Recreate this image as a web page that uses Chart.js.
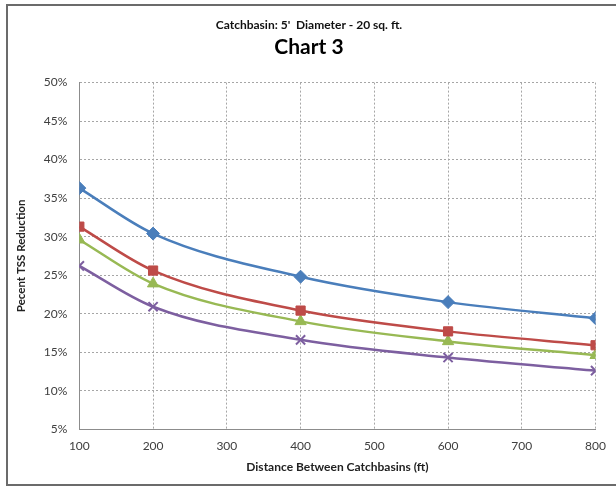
<!DOCTYPE html>
<html>
<head>
<meta charset="utf-8">
<script src="https://cdn.jsdelivr.net/npm/chart.js@4/dist/chart.umd.min.js"></script>
<style>
  html, body { margin: 0; padding: 0; background: #fff; }
  #wrap { width: 616px; height: 487px; position: relative; }
</style>
</head>
<body>
<div id="wrap"><canvas id="chart3" width="616" height="487"></canvas></div>
<script>
// distances (ft)
const distances = [100, 200, 400, 600, 800];
// percent TSS reduction, one array per curve
const seriesBlue = [36.3, 30.4, 24.8, 21.5, 19.4];
const seriesRed = [31.3, 25.6, 20.4, 17.7, 15.9];
const seriesGreen = [29.6, 23.9, 19.0, 16.4, 14.6];
const seriesPurple = [26.2, 20.9, 16.6, 14.3, 12.6];
const yTicks = [5, 10, 15, 20, 25, 30, 35, 40, 45, 50];
const xTicks = [100, 200, 300, 400, 500, 600, 700, 800];

const toPoints = vals => vals.map((v, i) => ({ x: distances[i], y: v }));

// the outer frame of the chart
const framePlugin = {
  id: 'frame',
  beforeDraw(chart) {
    const ctx = chart.ctx;
    ctx.save();
    ctx.strokeStyle = '#6b6b6b';
    ctx.lineWidth = 2;
    ctx.strokeRect(7, 5, 700, 480);
    ctx.restore();
  }
};

function line(vals, color, style, radius) {
  return {
    data: toPoints(vals),
    borderColor: color,
    backgroundColor: color,
    borderWidth: 2.5,
    pointStyle: style,
    pointRadius: radius,
    pointHoverRadius: radius,
    pointBorderColor: color,
    pointBackgroundColor: color,
    pointBorderWidth: style === 'crossRot' ? 2 : 1,
    cubicInterpolationMode: 'monotone',
    fill: false
  };
}

const ctx = document.getElementById('chart3').getContext('2d');
new Chart(ctx, {
  type: 'line',
  data: {
    datasets: [
      line(seriesBlue, '#4a7ebb', 'rectRot', 6.5),
      line(seriesRed, '#be4b48', 'rect', 6.5),
      line(seriesGreen, '#98b954', 'triangle', 6.5),
      line(seriesPurple, '#7d5fa0', 'crossRot', 6.5)
    ]
  },
  options: {
    responsive: false,
    animation: false,
    layout: { padding: { left: 14, right: 12, top: 12, bottom: 13 } },
    plugins: {
      legend: { display: false },
      tooltip: { enabled: false },
      title: {
        display: true,
        text: "Catchbasin: 5'  Diameter - 20 sq. ft.",
        color: '#111',
        font: { family: 'Lato', size: 12, weight: 'bold' },
        padding: { top: 6, bottom: 2 }
      },
      subtitle: {
        display: true,
        text: 'Chart 3',
        color: '#000',
        font: { family: 'Lato', size: 21, weight: 'bold' },
        padding: { top: 0, bottom: 23 }
      }
    },
    scales: {
      x: {
        type: 'linear',
        min: 100,
        max: 800,
        afterBuildTicks: axis => { axis.ticks = xTicks.map(v => ({ value: v })); },
        ticks: { color: '#404040', font: { family: 'Lato', size: 12 }, padding: 10 },
        grid: { color: '#a6a6a6', lineWidth: 1, drawTicks: false },
        border: { display: true, color: '#8c8c8c', width: 1, dash: [2, 2] },
        title: {
          display: true,
          text: 'Distance Between Catchbasins (ft)',
          color: '#222',
          font: { family: 'Lato', size: 12, weight: 'bold' },
          padding: { top: -4, bottom: 0 }
        }
      },
      y: {
        min: 5,
        max: 50,
        afterBuildTicks: axis => { axis.ticks = yTicks.map(v => ({ value: v })); },
        ticks: {
          color: '#404040',
          font: { family: 'Lato', size: 12 },
          padding: 12,
          callback: v => v + '%'
        },
        grid: { color: '#a6a6a6', lineWidth: 1, drawTicks: false },
        border: { display: true, color: '#8c8c8c', width: 1, dash: [2, 2] },
        title: {
          display: true,
          text: 'Pecent TSS Reduction',
          color: '#222',
          font: { family: 'Lato', size: 11.5, weight: 'bold' },
          padding: { top: 0, bottom: 4 }
        }
      }
    }
  },
  plugins: [framePlugin]
});
</script>
</body>
</html>
